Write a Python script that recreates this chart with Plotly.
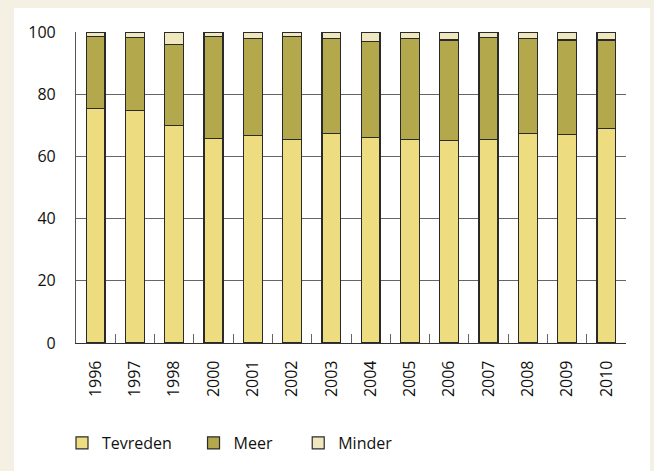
import plotly.graph_objects as go

years = ["1996", "1997", "1998", "2000", "2001", "2002", "2003", "2004",
         "2005", "2006", "2007", "2008", "2009", "2010"]
tevreden = [75.4, 74.7, 70.0, 65.8, 66.7, 65.5, 67.4, 66.1, 65.5, 65.1, 65.5, 67.4, 67.1, 69.0]
meer = [23.2, 23.5, 26.0, 32.8, 31.1, 33.1, 30.4, 30.8, 32.3, 32.3, 32.7, 30.4, 30.3, 28.4]
minder = [1.4, 1.8, 4.0, 1.4, 2.2, 1.4, 2.2, 3.1, 2.2, 2.6, 1.8, 2.2, 2.6, 2.6]
y_ticks = [0, 20, 40, 60, 80, 100]

series = [
    ("Tevreden", tevreden, "#EEDC80"),
    ("Meer", meer, "#B3A84C"),
    ("Minder", minder, "#EFE7BF"),
]

NB = "\u00a0"
names = {"Tevreden": "Tevreden" + NB * 4, "Meer": "Meer" + NB * 5, "Minder": "Minder"}

fig = go.Figure()
for name, vals, col in series:
    fig.add_trace(go.Bar(
        x=years, y=vals, name=names[name],
        marker=dict(color=col, line=dict(color="#2a2a2a", width=1.2)),
    ))

L, R, T, B = 76, 28, 32, 128
W, H = 654, 471
pw, ph = W - L - R, H - T - B

fig.add_shape(type="rect", xref="paper", yref="paper",
              x0=(14 - L) / pw, x1=(650 - L) / pw,
              y0=(H - B - 480) / ph, y1=(H - B - 8) / ph,
              fillcolor="white", line=dict(width=0), layer="below")

fig.update_layout(
    width=W, height=H,
    barmode="stack", bargap=0.52,
    margin=dict(l=L, r=R, t=T, b=B, autoexpand=False),
    paper_bgcolor="#F4F0E3", plot_bgcolor="white",
    font=dict(family="Open Sans", size=16, color="#111111"),
    showlegend=True,
    legend=dict(orientation="h", xref="container", yref="container",
                x=62 / W, y=(H - 426) / H, xanchor="left", yanchor="top",
                traceorder="normal", bgcolor="rgba(0,0,0,0)",
                font=dict(size=16), itemclick=False),
    xaxis=dict(type="category", tickangle=-90, showgrid=False, automargin=False,
               showline=True, linecolor="#333333", linewidth=1.2,
               ticks="inside", tickson="boundaries", ticklen=9,
               tickcolor="#666666", tickwidth=1,
               tickfont=dict(size=16), ticklabelstandoff=10),
    yaxis=dict(range=[0, 100], tickvals=y_ticks, showgrid=True, automargin=False,
               gridcolor="#666666", gridwidth=1.2,
               showline=True, linecolor="#555555", linewidth=1.2,
               ticks="", zeroline=False, ticklabelstandoff=16,
               tickfont=dict(size=16)),
)

fig.write_html("out.html",
               config={"displayModeBar": False},
               post_script="document.body.style.margin='0';document.body.style.overflow='hidden';")
